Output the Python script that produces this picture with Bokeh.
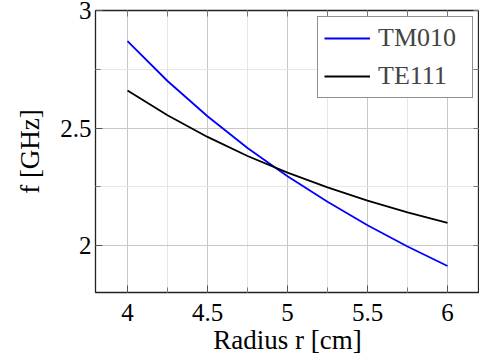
from bokeh.plotting import figure
from bokeh.models import LinearAxis, FixedTicker, Legend, LegendItem, Range1d
from bokeh.embed import file_html
from bokeh.resources import INLINE

# Data
radius = [4.0, 4.25, 4.5, 4.75, 5.0, 5.25, 5.5, 5.75, 6.0]
tm010 = [2.87, 2.70, 2.55, 2.415, 2.295, 2.186, 2.086, 1.996, 1.913]
te111 = [2.66, 2.554, 2.462, 2.381, 2.31, 2.247, 2.191, 2.141, 2.096]

x_ticks = [4, 4.5, 5, 5.5, 6]
x_tick_labels = ["4", "4.5", "5", "5.5", "6"]
x_minor = [4.25, 4.75, 5.25, 5.75]
y_ticks = [2, 2.5, 3]
y_tick_labels = ["2", "2.5", "3"]
y_minor = [2.25, 2.75]

FONT = "'Liberation Serif', serif"
LEGEND_FONT = "Times"

p = figure(width=479, height=360, output_backend="svg", toolbar_location=None,
           x_range=Range1d(3.8, 6.2), y_range=Range1d(1.8, 3.0),
           min_border_left=95, min_border_right=0, min_border_top=10, min_border_bottom=68)

p.outline_line_color = "#222222"
p.outline_line_width = 1.3
p.background_fill_color = "white"
p.border_fill_color = "white"

xt = FixedTicker(ticks=x_ticks, minor_ticks=x_minor)
yt = FixedTicker(ticks=y_ticks, minor_ticks=y_minor)
# opposite-side axes: every tick drawn as an unlabelled tick mark
xt_top = FixedTicker(ticks=[], minor_ticks=x_ticks + x_minor)
yt_right = FixedTicker(ticks=[], minor_ticks=y_ticks + y_minor)

def style_axis(ax):
    ax.axis_line_color = None
    ax.major_tick_in = 7
    ax.major_tick_out = 0
    ax.minor_tick_in = 5
    ax.minor_tick_out = 0
    ax.major_tick_line_color = "#555555"
    ax.minor_tick_line_color = "#777777"
    ax.major_label_text_font = FONT
    ax.major_label_text_font_size = "25px"
    ax.major_label_text_color = "black"
    ax.axis_label_text_font = FONT
    ax.axis_label_text_font_size = "27px"
    ax.axis_label_text_font_style = "normal"
    ax.axis_label_text_color = "black"

p.xaxis.ticker = xt
p.yaxis.ticker = yt
p.xaxis.major_label_overrides = dict(zip(x_ticks, x_tick_labels))
p.yaxis.major_label_overrides = dict(zip(y_ticks, y_tick_labels))
style_axis(p.xaxis[0])
style_axis(p.yaxis[0])
p.xaxis.axis_label = "Radius r [cm]"
p.yaxis.axis_label = "f [GHz]"
p.xaxis.major_label_standoff = 11
p.yaxis.major_label_standoff = 4
p.xaxis.axis_label_standoff = 1
p.yaxis.axis_label_standoff = 12

top = LinearAxis(ticker=xt_top)
right = LinearAxis(ticker=yt_right)
for ax in (top, right):
    style_axis(ax)
    ax.minor_tick_in = 6
    ax.major_label_standoff = 0
    ax.axis_label_standoff = 0
p.add_layout(top, "above")
p.add_layout(right, "right")

p.xgrid.ticker = xt
p.ygrid.ticker = yt
for g in (p.xgrid[0], p.ygrid[0]):
    g.grid_line_color = "#c8c8c8"
    g.grid_line_width = 1
    g.minor_grid_line_color = "#e6e6e6"
    g.minor_grid_line_width = 1

r1 = p.line(radius, tm010, line_color="#0000ff", line_width=1.8)
r2 = p.line(radius, te111, line_color="black", line_width=1.8)

legend = Legend(items=[LegendItem(label="TM010", renderers=[r1]),
                       LegendItem(label="TE111", renderers=[r2])],
                location="top_right")
legend.margin = 6
legend.padding = 6
legend.spacing = 8
legend.glyph_width = 46
legend.glyph_height = 28
legend.label_height = 28
legend.label_width = 88
legend.label_standoff = 8
legend.label_text_font = LEGEND_FONT
legend.label_text_font_size = "26px"
legend.border_line_color = "#222222"
legend.border_line_width = 1.2
legend.background_fill_alpha = 1
p.add_layout(legend)

open("out.html", "w").write(file_html(p, INLINE))
